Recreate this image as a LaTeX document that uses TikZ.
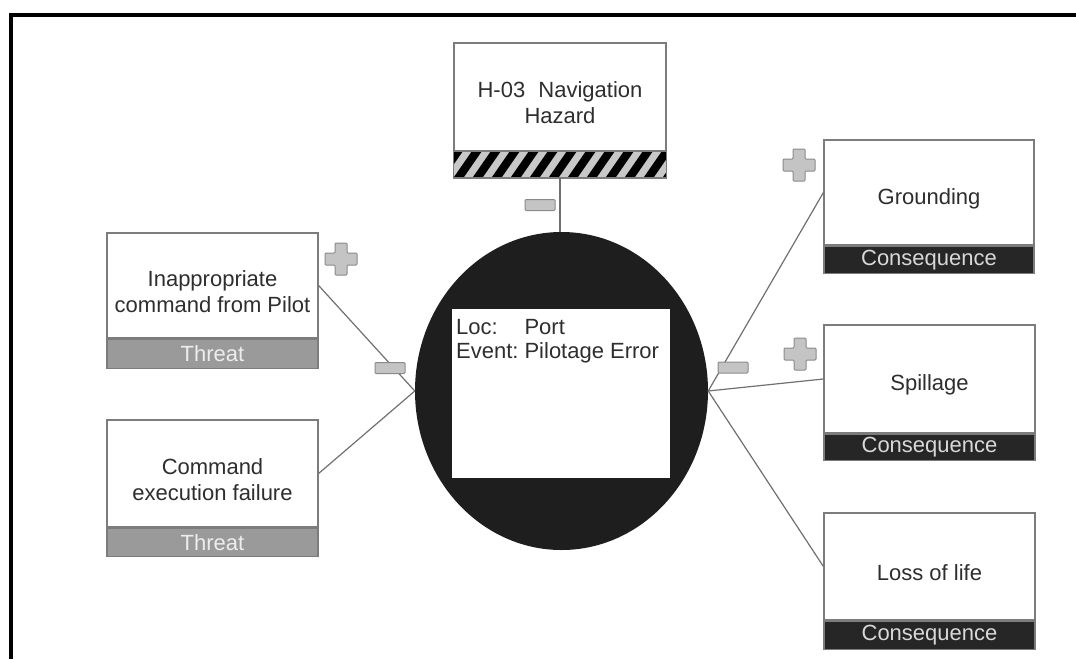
\documentclass[tikz,border=0pt]{standalone}
\usepackage{fontspec}
\setmainfont{Liberation Sans}
\usetikzlibrary{shapes.geometric}
\definecolor{boxline}{HTML}{7C7C7C}
\definecolor{linegray}{HTML}{707070}
\definecolor{txt}{HTML}{2E2E2E}
\definecolor{threatgray}{HTML}{9A9A9A}
\definecolor{threattxt}{HTML}{EDEDED}
\definecolor{consdark}{HTML}{262626}
\definecolor{constxt}{HTML}{D8D8D8}
\definecolor{icongray}{HTML}{C4C4C4}
\definecolor{iconline}{HTML}{8A8A8A}
\definecolor{circfill}{HTML}{1E1E1E}
\definecolor{stripegray}{HTML}{C8C8C8}
\begin{document}
\begin{tikzpicture}[x=1pt,y=-1pt,
  lbl/.style={font=\fontsize{22}{26}\selectfont, text=txt, align=center, yshift=-6pt},
  card/.style={draw=boxline, line width=1.2pt, fill=white, minimum width=211pt,
    minimum height=106pt, inner sep=0pt},
  barbase/.style={draw=boxline, line width=1.2pt, minimum width=211pt,
    minimum height=27pt, inner sep=0pt, anchor=north,
    font=\fontsize{22}{26}\selectfont},
  threatbar/.style={barbase, fill=threatgray, text=threattxt},
  consbar/.style={barbase, fill=consdark, text=constxt},
  conn/.style={draw=linegray, line width=1.2pt},
  minusicon/.style={draw=iconline, fill=icongray, line width=1pt,
    minimum width=30pt, minimum height=11pt, inner sep=0pt, rounded corners=1pt},
  plusicon/.pic={\draw[draw=iconline, fill=icongray, line width=1pt, rounded corners=1pt]
    (-6,-16) -- (6,-16) -- (6,-6) -- (16,-6) -- (16,6) -- (6,6) -- (6,16)
    -- (-6,16) -- (-6,6) -- (-16,6) -- (-16,-6) -- (-6,-6) -- cycle;}
]
\useasboundingbox (0,0) rectangle (1076,659);
% frame
\draw[line width=4pt] (1076,15) -- (11,15) -- (11,659);

% central event
\node[ellipse, fill=circfill, draw=none, minimum width=293pt, minimum height=318pt,
  inner sep=0pt] (ev) at (561.5,391) {};
\node[draw=none, fill=white, minimum width=218pt, minimum height=169pt, inner sep=0pt]
  (evbox) at (561,393.5) {};
\node[anchor=north west, inner sep=0pt, font=\fontsize{22}{25}\selectfont, text=txt]
  (evtext) at (456,317) {\begin{tabular}{@{}l@{\hspace{6pt}}l@{}}Loc: & Port\\[-1pt]
  Event: & Pilotage Error\end{tabular}};

% hazard
\node[card, minimum width=212pt, minimum height=108pt,
  label={[lbl]center:{H-03\hspace{0.6em}Navigation\\Hazard}}] (haz) at (560,97) {};
\node[draw=none, fill=stripegray, minimum width=212pt, minimum height=26pt,
  inner sep=0pt, anchor=north] (hazbar) at (haz.south) {};
\begin{scope}
  \clip (454,151) rectangle (666,177);
  \foreach \i in {-2,...,12}
    \fill[black] (454+\i*19,177) -- ++(10,0) -- ++(18,-26) -- ++(-10,0) -- cycle;
\end{scope}
\draw[boxline, line width=1.2pt] (hazbar.north west) rectangle (hazbar.south east);

% threats
\node[card, minimum height=105pt,
  label={[lbl]center:{Inappropriate\\command from Pilot}}] (inap) at (212.5,285.5) {};
\node[threatbar, minimum height=29pt] (inapbar) at (inap.south) {Threat};
\node[card, minimum height=107pt,
  label={[lbl]center:{Command\\execution failure}}] (cmd) at (212.5,473.5) {};
\node[threatbar, minimum height=28pt] (cmdbar) at (cmd.south) {Threat};

% consequences
\node[card, minimum width=210pt, minimum height=105pt,
  label={[lbl]center:Grounding}] (ground) at (929,192.5) {};
\node[consbar, minimum width=210pt] (groundbar) at (ground.south) {Consequence};
\node[card, minimum height=108pt, label={[lbl]center:Spillage}] (spill) at (929.5,379) {};
\node[consbar, minimum height=26pt] (spillbar) at (spill.south) {Consequence};
\node[card, minimum height=107pt, label={[lbl]center:Loss of life}] (loss) at (929.5,566.5) {};
\node[consbar, minimum height=28pt] (lossbar) at (loss.south) {Consequence};

% connectors
\draw[conn] (hazbar.south) -- (hazbar.south |- ev.north);
\draw[conn] (inap.east) -- (ev.west);
\draw[conn] (cmd.east) -- (ev.west);
\draw[conn] (ev.east) -- (ground.west);
\draw[conn] (ev.east) -- (spill.west);
\draw[conn] (ev.east) -- (loss.west);

% icons
\node[minusicon] (mhaz) at (540,205) {};
\node[minusicon] (mleft) at (390,368) {};
\node[minusicon] (mright) at (733,367.5) {};
\pic at (341,259) {plusicon};
\pic at (799,165) {plusicon};
\pic at (800,354) {plusicon};
\end{tikzpicture}
\end{document}
